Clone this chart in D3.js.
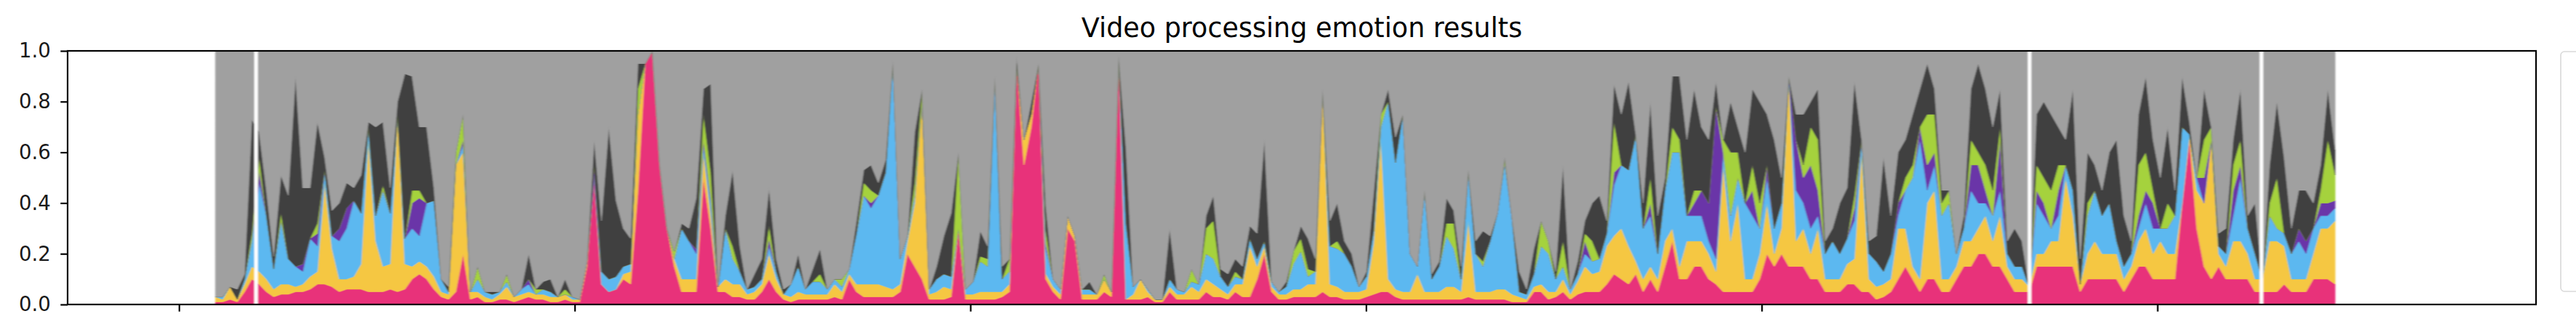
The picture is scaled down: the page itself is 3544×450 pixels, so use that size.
<!DOCTYPE html>
<html><head><meta charset="utf-8">
<script src="https://cdn.jsdelivr.net/npm/d3@7"></script>
<style>html,body{margin:0;padding:0;background:#fff;}svg{display:block;}</style>
</head><body>
<svg id="chart" width="3544" height="450"></svg>
<script>
// ---- data ----
const titleText = "Video processing emotion results";
const emotionKeys = ["angry", "happy", "sad", "fear", "disgust", "surprise", "neutral"];
const emotionColors = ["#e8337a", "#f5c743", "#5bb8f0", "#6a34a8", "#a5d23c", "#404040", "#a0a0a0"];
const xTicks = [0, 1, 2, 3, 4, 5];
const xTickLabels = ["", "", "", "", "", ""];
const yTicks = [0, 0.2, 0.4, 0.6, 0.8, 1.0];
const frameStart = 0.092;
const frameStep = 0.01841;
const missingFrames = [0.1947, 4.677, 5.263];

const angry = [
.01,.01,.02,.01,.05,.10,.08,.05,.03,.04,
.04,.05,.05,.06,.08,.08,.07,.05,.06,.06,
.06,.05,.05,.05,.06,.05,.06,.10,.12,.10,
.06,.03,.02,.05,.20,.02,.03,.01,.01,.02,
.02,.01,.02,.03,.02,.02,.01,.01,.02,.01,
.01,.15,.50,.08,.05,.06,.10,.08,.45,.95,
1.0,.55,.30,.15,.05,.05,.05,.50,.30,.05,
.05,.03,.03,.02,.02,.05,.10,.05,.02,.01,
.02,.02,.02,.02,.02,.03,.02,.10,.05,.03,
.03,.03,.03,.03,.05,.20,.15,.10,.02,.02,
.02,.03,.30,.02,.02,.02,.02,.02,.03,.05,
.95,.55,.70,.95,.10,.05,.02,.30,.25,.02,
.02,.02,.05,.03,.98,.02,.02,.02,.03,.01,
.01,.05,.02,.02,.02,.02,.05,.03,.03,.02,
.05,.03,.03,.10,.20,.05,.02,.02,.03,.03,
.03,.03,.05,.03,.03,.02,.02,.02,.03,.04,
.05,.05,.03,.02,.02,.02,.02,.02,.02,.02,
.02,.02,.03,.02,.02,.02,.02,.02,.01,.01,
.01,.05,.05,.02,.03,.05,.02,.04,.05,.05,
.05,.08,.12,.10,.08,.12,.05,.10,.05,.15,
.25,.10,.10,.15,.15,.10,.08,.05,.05,.05,
.05,.05,.10,.20,.15,.20,.15,.15,.15,.10,
.10,.05,.05,.05,.08,.08,.05,.05,.02,.03,
.05,.10,.15,.10,.05,.10,.10,.05,.05,.10,
.15,.15,.20,.20,.15,.15,.10,.05,.05,.05,
.15,.15,.15,.15,.15,.15,.05,.10,.10,.10,
.10,.10,.05,.10,.15,.15,.10,.10,.10,.10,
.40,.65,.30,.15,.10,.15,.10,.10,.10,.10,
.05,.05,.05,.05,.08,.05,.05,.05,.10,.10,
.10,.08];

const happy = [
.02,.01,.05,.01,.03,.05,.05,.05,.03,.04,
.04,.02,.03,.05,.05,.40,.15,.05,.04,.05,
.10,.60,.20,.10,.10,.70,.10,.05,.05,.05,
.05,.02,.02,.50,.40,.03,.02,.02,.01,.02,
.05,.02,.02,.02,.02,.02,.02,.02,.02,.01,
.01,.02,0,0,0,0,.02,.05,.30,0,
0,0,0,.03,.05,.05,.05,.10,.05,.02,
.05,.05,.05,.02,.03,.03,.10,.05,.02,.02,
.03,.02,.02,.02,.02,.05,.03,.02,.03,.05,
.05,.05,.04,.03,.03,.05,.25,.70,.02,.03,
.05,.03,0,.02,.02,.03,.03,.03,.02,.03,
0,.10,.05,0,.02,.02,.02,.05,.02,.02,
.02,.02,.05,.02,0,0,.02,.08,.02,.01,
.01,.02,.02,.02,.05,.03,.05,.05,.03,.02,
.03,.05,.20,.05,.03,.02,.02,.02,.03,.03,
.05,.05,.80,.05,.04,.03,.03,.03,.03,.20,
.60,.05,.03,.03,.03,.10,.03,.03,.03,.05,
.05,.03,.30,.03,.03,.03,.04,.04,.03,.02,
.01,.02,.03,.03,.02,.05,.02,.05,.10,.07,
.08,.15,.15,.20,.15,.05,.05,.05,.05,.10,
.05,.05,.15,.10,.10,.10,.05,.50,.20,.35,
.05,.05,.10,.20,.05,.10,.75,.10,.15,.10,
.20,.05,.05,.05,.08,.10,.55,.05,.05,.05,
.05,.20,.15,.05,.05,.30,.35,.05,.05,.05,
.10,.10,.10,.15,.10,.20,.05,.05,.05,.02,
.05,.05,.10,.10,.35,.20,.03,.10,.15,.10,
.10,.10,.05,.05,.10,.15,.10,.15,.10,.10,
0,.02,.15,.25,.55,.05,.05,.15,.15,.10,
.05,.05,.20,.20,.15,.05,.05,.05,.10,.20,
.20,.25];

const sad = [
0,.01,0,0,.02,.10,.35,.25,.08,.25,
.10,.08,.05,.15,.10,.05,.05,.15,.20,.30,
.20,.05,.10,.30,.20,0,.10,.15,.10,.25,
.30,.05,.01,0,.03,0,.05,.02,.02,.01,
.02,0,.02,.03,0,.02,.02,0,0,.01,
0,0,0,.05,.05,.05,.03,.03,0,0,
0,0,0,0,.20,.15,.10,.03,.05,0,
.20,.10,.05,.02,.02,.02,.03,.03,0,.05,
.10,.02,.05,.05,.02,.02,.02,.02,.20,.35,
.30,.35,.45,.90,.10,.02,.03,0,.02,.05,
.05,.05,0,.02,.05,.12,.10,.85,.05,.05,
0,0,0,0,.10,.03,.02,0,0,.02,
.02,0,0,0,0,.30,.03,0,.01,0,
0,.03,.02,.01,.02,.03,.10,.10,.05,.03,
.03,.02,.03,.03,.02,.02,.01,.03,.10,.15,
.03,.05,0,.15,.15,.15,.10,.02,.05,.05,
.05,.70,.50,.70,.15,.03,.40,.05,.10,.20,
.15,.05,.20,.15,.10,.20,.30,.50,.30,.02,
.02,.05,.15,.15,.05,.05,.02,.03,.05,.05,
.05,.05,.20,.25,.30,.50,.20,.20,.10,.20,
.30,.45,.10,.10,.10,.05,.05,.05,.10,.10,
.30,.25,.10,.10,.10,.10,0,.20,.10,.10,
.05,.10,.15,.10,.10,.15,.05,.10,.10,.05,
.10,.05,.15,.35,.55,.05,.10,.25,.30,.05,
.05,.20,.10,.05,.10,.10,.05,.05,.05,0,
.20,.15,.05,.10,.05,.10,0,.15,.20,.15,
.20,.05,.05,.05,.05,.10,.10,.05,.10,.15,
.30,0,.05,0,0,.03,.05,.10,.25,.10,
.10,0,.10,.05,.05,.10,.15,.10,.10,.05,
.05,.05];

const fear = [
0,0,0,0,0,0,.05,0,0,0,
0,0,.03,0,.05,0,0,.05,.08,0,
0,0,0,0,0,0,0,.10,.15,0,
0,0,0,0,.02,0,0,0,0,0,
0,0,0,.02,0,0,0,0,0,0,
0,0,.05,0,0,0,0,0,0,0,
0,0,0,0,0,0,.02,.02,.02,0,
0,0,0,0,0,0,.03,0,0,0,
0,0,0,0,0,0,0,0,0,0,
.02,0,0,0,0,0,0,0,0,0,
0,0,0,0,0,0,0,0,0,0,
0,0,0,0,.02,0,0,0,0,0,
0,0,0,0,0,0,0,0,0,0,
0,0,0,0,0,0,0,0,0,0,
0,0,0,0,0,0,0,0,0,0,
0,0,0,0,0,0,0,0,0,0,
0,0,0,0,0,0,0,0,0,0,
0,0,0,0,0,0,0,0,0,0,
0,0,0,0,0,0,0,0,.05,0,
0,0,.05,0,0,0,0,.05,0,0,
0,0,0,.05,.10,.15,.60,0,0,0,
0,.10,0,.05,0,0,0,.20,.10,.25,
.10,0,0,0,0,.05,0,0,0,0,
0,.05,0,0,.05,.10,.05,0,0,0,
0,.10,.15,.05,0,.20,0,0,0,0,
.05,.05,0,.10,0,0,0,0,0,0,
0,0,0,0,.05,.05,.10,0,0,0,
0,0,0,.10,0,0,0,.10,.05,0,
0,0,0,0,0,0,.05,.05,0,.05,
.05,.03];

const disgust = [
0,0,0,0,0,.03,.05,0,0,.03,
0,0,0,0,.04,0,0,0,0,0,
0,0,0,.02,0,0,0,.05,.03,0,
0,0,0,.05,.10,0,.05,0,0,0,
.03,0,0,0,.02,0,0,0,.02,0,
0,0,0,0,0,0,0,0,.10,0,
0,0,0,.03,0,0,0,.10,.10,0,
0,.05,0,0,0,0,.05,0,0,0,
0,0,0,.03,0,0,.03,0,0,.05,
.05,0,0,0,0,0,.05,.05,0,0,
0,0,.30,0,0,.02,.03,0,0,.05,
0,0,0,0,.05,0,0,0,0,0,
0,0,.02,0,0,0,0,0,0,0,
0,0,0,0,.05,0,.10,.15,0,0,
.02,0,0,0,0,0,0,0,.05,.05,
.03,0,0,0,.03,0,0,0,0,0,
.05,0,0,0,0,0,0,0,0,.05,
.10,0,0,0,.02,0,0,.02,0,0,
0,0,.10,.05,0,.10,0,0,.03,.08,
0,0,.20,0,0,0,0,.10,0,0,
.10,.05,0,.05,0,0,0,.05,.25,.10,
0,.10,.10,0,0,0,0,0,.05,.15,
.20,0,0,0,0,.05,0,0,0,0,
0,0,.05,.05,0,.20,.15,.05,.05,0,
0,.10,.05,.10,.10,.05,0,0,0,0,
.10,.10,.15,.10,0,0,0,.05,0,0,
0,0,0,0,.20,.15,.05,0,.10,0,
0,0,0,.15,.05,0,0,.10,.10,0,
0,0,.05,.20,0,0,0,0,0,.05,
.25,.10];

const surprise = [
0,0,0,.04,.02,.45,.10,.10,.05,.15,
.25,.75,.30,.20,.40,.05,.10,.10,.10,.05,
.15,.02,.35,.25,.10,.05,.65,.45,.25,.30,
.05,0,.02,0,0,0,0,0,.01,0,
0,0,0,.10,0,.03,.05,0,.04,0,
0,0,.10,.20,.60,.30,.15,.10,.10,0,
0,0,0,0,.02,.05,.20,.10,.35,0,
.05,.30,.10,0,.05,.08,.15,.05,.02,0,
.05,0,.05,.10,0,0,0,0,.05,.05,
.10,.05,.05,0,0,0,.20,0,0,.05,
.15,.25,0,0,0,.10,.05,0,.05,0,
.03,0,.05,0,.10,0,0,0,0,0,
.03,0,0,0,0,.30,0,0,0,0,
0,.20,0,0,0,0,.05,.10,.03,.05,
.05,.05,.05,.10,.40,0,0,.02,0,.05,
.12,.05,0,.10,.15,.05,.05,0,.02,.15,
0,.05,.10,0,0,0,0,.02,.02,.10,
.05,.05,0,.05,.12,.02,0,0,0,.08,
.02,.10,0,0,.03,.30,0,.05,.05,.15,
.25,.05,.15,.20,.35,0,.10,.30,.15,.05,
.20,.25,.30,.40,.25,.25,.10,0,.20,.10,
.20,.30,.40,.20,.35,.10,0,.10,.20,.10,
.20,.05,.05,.20,.20,.45,0,.05,.10,.45,
.15,.20,.15,.20,.15,.20,.10,.05,0,0,
.05,.20,.35,.30,.25,.15,.05,.15,.10,0,
.20,.30,.30,.15,.10,.40,.10,.20,.10,.10,
.20,.40,.20,.05,.20,.30,.20,.20,.30,.10,
.20,.05,0,.20,0,.05,.10,.10,.20,.05,
.20,0,.15,.30,.30,.10,.15,.20,.10,.10,
.20,.10];

const neutral = [
.97,.97,.93,.94,.88,.27,.32,.55,.81,.49,
.57,.10,.54,.54,.28,.42,.63,.60,.52,.54,
.49,.28,.30,.28,.54,.20,.09,.10,.30,.30,
.54,.90,.93,.40,.25,.95,.85,.95,.95,.95,
.88,.97,.94,.80,.94,.91,.90,.97,.90,.97,
.98,.83,.35,.67,.30,.59,.70,.74,.05,.05,
0,.45,.70,.79,.68,.70,.58,.15,.13,.93,
.65,.47,.77,.94,.88,.82,.54,.82,.94,.92,
.80,.94,.86,.78,.94,.90,.90,.86,.67,.47,
.45,.52,.43,.04,.82,.73,.32,.15,.94,.85,
.73,.64,.40,.94,.91,.71,.77,.10,.85,.82,
.02,.35,.20,.05,.61,.90,.94,.65,.73,.94,
.91,.96,.88,.95,.02,.38,.93,.90,.94,.98,
.98,.70,.94,.95,.86,.92,.65,.57,.86,.88,
.82,.85,.69,.72,.35,.91,.95,.91,.79,.69,
.74,.82,.15,.67,.60,.75,.80,.93,.87,.56,
.25,.15,.34,.25,.80,.85,.55,.88,.83,.58,
.63,.85,.47,.75,.71,.73,.64,.42,.66,.87,
.94,.78,.67,.75,.87,.45,.94,.83,.67,.60,
.57,.67,.13,.25,.12,.33,.60,.20,.65,.50,
.10,.10,.35,.15,.30,.35,.12,.35,.20,.30,
.40,.15,.20,.25,.35,.50,.10,.25,.25,.20,
.15,.75,.70,.60,.54,.12,.35,.75,.73,.42,
.65,.40,.35,.25,.15,.05,.15,.55,.55,.80,
.65,.15,.05,.15,.30,.15,.75,.70,.75,.93,
.25,.20,.25,.30,.35,.15,.82,.40,.45,.55,
.40,.35,.65,.75,.25,.10,.35,.50,.30,.55,
.10,.28,.50,.15,.30,.72,.70,.35,.15,.65,
.60,.90,.45,.20,.42,.70,.55,.55,.60,.45,
.15,.39];

const seriesValues = [angry, happy, sad, fear, disgust, surprise, neutral];

// ---- layout ----
const svg = d3.select("#chart");
const plot = {left: 93, right: 3489, top: 70, bottom: 419};
const x = d3.scaleLinear().domain([-0.2816, 5.957]).range([plot.left, plot.right]);
const y = d3.scaleLinear().domain([0, 1]).range([plot.bottom, plot.top]);

const n = d3.min(seriesValues, s => s.length);
const rows = d3.range(n).map(i => {
  const o = {t: frameStart + i * frameStep};
  emotionKeys.forEach((k, j) => { o[k] = seriesValues[j][i]; });
  return o;
});

const layers = d3.stack().keys(emotionKeys).offset(d3.stackOffsetExpand)(rows);
const area = d3.area()
  .x(d => x(d.data.t))
  .y0(d => y(d[0]))
  .y1(d => y(d[1]));

const defs = svg.append("defs");
defs.append("filter").attr("id", "soft").attr("x", "-1%").attr("y", "-5%").attr("width", "102%").attr("height", "110%")
  .append("feGaussianBlur").attr("stdDeviation", "1.0 0.6");

const gData = svg.append("g").attr("filter", "url(#soft)");
gData.selectAll("path.layer").data(layers).join("path")
  .attr("class", "layer")
  .attr("fill", (d, i) => emotionColors[i])
  .attr("stroke", (d, i) => emotionColors[i])
  .attr("stroke-width", 0.6)
  .attr("d", area);

// missing frames (no detection) appear as white gaps
gData.selectAll("rect.gap").data(missingFrames).join("rect")
  .attr("class", "gap")
  .attr("x", d => x(d) - 2.5)
  .attr("width", 5)
  .attr("y", y(1))
  .attr("height", y(0) - y(1))
  .attr("fill", "#fff");

// axes
const font = "DejaVu Sans, sans-serif";
const gx = svg.append("g").attr("transform", `translate(0,${plot.bottom})`)
  .call(d3.axisBottom(x).tickValues(xTicks).tickFormat((d, i) => xTickLabels[i]).tickSize(9.7).tickSizeOuter(0));
gx.select(".domain").remove();
gx.selectAll(".tick line").attr("stroke", "#000").attr("stroke-width", 2.2);

const gy = svg.append("g").attr("transform", `translate(${plot.left},0)`)
  .call(d3.axisLeft(y).tickValues(yTicks).tickFormat(d3.format(".1f")).tickSize(9.7).tickPadding(13.5).tickSizeOuter(0));
gy.select(".domain").remove();
gy.selectAll(".tick line").attr("stroke", "#000").attr("stroke-width", 2.2);
gy.selectAll(".tick text").attr("font-family", font).attr("font-size", 27.5).attr("fill", "#1a1a1a");

// spines
svg.append("rect")
  .attr("x", plot.left).attr("y", plot.top)
  .attr("width", plot.right - plot.left).attr("height", plot.bottom - plot.top)
  .attr("fill", "none").attr("stroke", "#000").attr("stroke-width", 2.2);

// title
svg.append("text")
  .attr("x", (plot.left + plot.right) / 2).attr("y", 51)
  .attr("text-anchor", "middle")
  .attr("font-family", font).attr("font-size", 36.5)
  .attr("fill", "#000")
  .text(titleText);

// legend frame edge (legend placed outside, clipped by the figure)
svg.append("rect")
  .attr("x", 3523).attr("y", 71).attr("width", 80).attr("height", 330).attr("rx", 5)
  .attr("fill", "#fff").attr("stroke", "#d9d9d9").attr("stroke-width", 1.6);
</script>
</body></html>
